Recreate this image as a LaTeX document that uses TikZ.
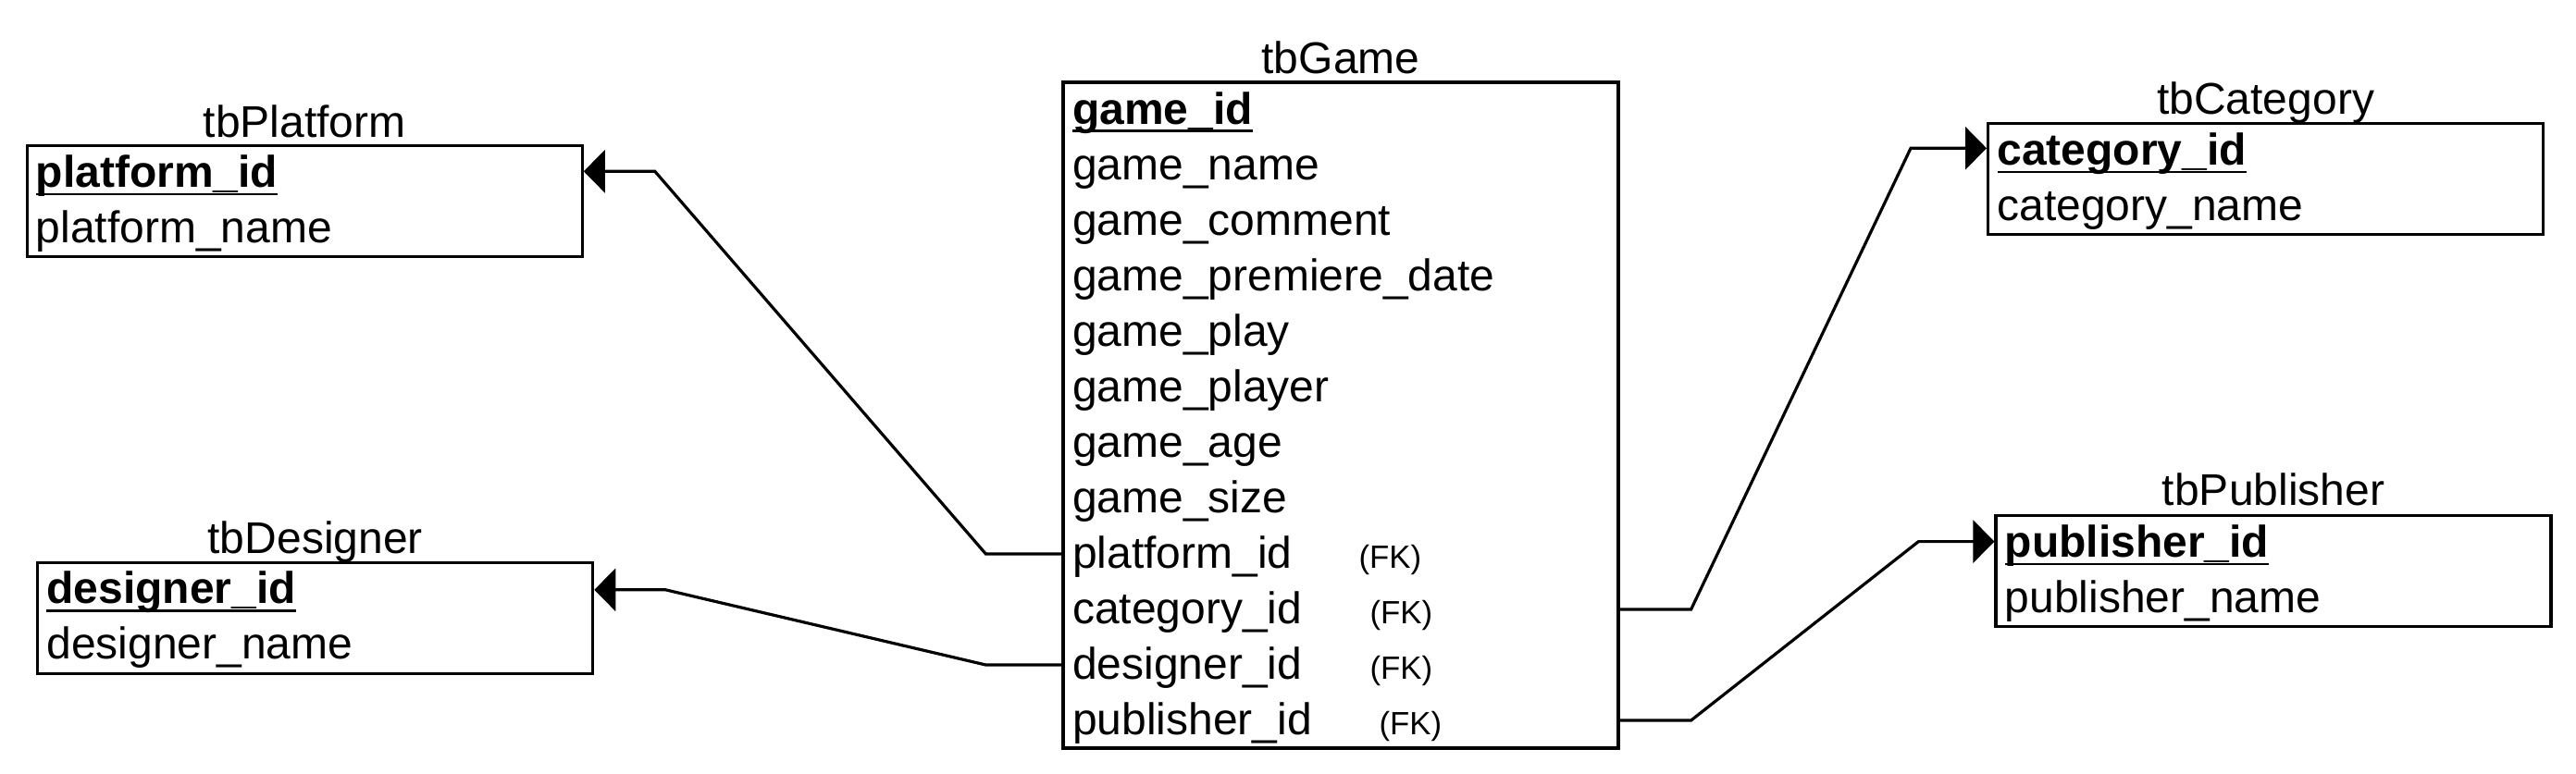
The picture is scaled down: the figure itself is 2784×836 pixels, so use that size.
\documentclass[tikz,border=0pt]{standalone}
\usepackage{fontspec}
\setmainfont{Liberation Sans}
\usetikzlibrary{arrows.meta,calc}

\newcommand{\pkline}[1]{\setbox0\hbox{#1}\rlap{\rule[-2.2pt]{\wd0}{0.6pt}}\box0}
\tikzset{every picture/.style={line width=0.8pt}}
\tikzset{
tbl/.style={draw, inner sep=0pt, minimum width=150pt},
row/.style={anchor=west, inner sep=0pt, text height=9pt, text depth=1.5pt, font=\fontsize{12}{14}\selectfont},
pk/.style={row, font=\fontsize{12}{14}\selectfont\bfseries},
fkl/.style={anchor=base west, inner sep=0pt, font=\fontsize{8.7}{10}\selectfont},
ttl/.style={anchor=base, inner sep=0pt, font=\fontsize{12}{14}\selectfont},
fk/.style={-{Triangle[length=5.75pt,width=11.5pt]}}}

\begin{document}
\begin{tikzpicture}[x=0.25pt,y=0.25pt,yscale=-1,xscale=1]
\useasboundingbox (0,0) rectangle (2784,836);

%Shape: Table tbPlatform
\node[tbl, minimum height=30pt] (platform) at (329.2,217.3) {};
\node[ttl] (tPlatform) at (329.2,148.2) {tbPlatform};
\node[pk] (pId) at (37.3,187.3) {\pkline{platform\_id}};
\node[row] (pName) at (37.3,247.3) {platform\_name};

%Shape: Table tbDesigner
\node[tbl, minimum height=30pt] (designer) at (340.7,668.3) {};
\node[ttl] (tDesigner) at (340.7,598.2) {tbDesigner};
\node[pk] (dId) at (48.8,637.8) {\pkline{designer\_id}};
\node[row] (dName) at (48.8,697.8) {designer\_name};

%Shape: Table tbGame
\node[tbl, minimum height=180pt] (game) at (1449,449) {};
\node[ttl] (tGame) at (1449,79) {tbGame};
\node[pk] (gId) at (1157.4,119) {\pkline{game\_id}};
\node[row] (gName) at (1157.4,179) {game\_name};
\node[row] (gComment) at (1157.4,239) {game\_comment};
\node[row] (gDate) at (1157.4,299) {game\_premiere\_date};
\node[row] (gPlay) at (1157.4,359) {game\_play};
\node[row] (gPlayer) at (1157.4,419) {game\_player};
\node[row] (gAge) at (1157.4,479) {game\_age};
\node[row] (gSize) at (1157.4,539) {game\_size};
\node[row] (gPlat) at (1157.4,599) {platform\_id};
\node[row] (gCat) at (1157.4,659) {category\_id};
\node[row] (gDes) at (1157.4,719) {designer\_id};
\node[row] (gPub) at (1157.4,779) {publisher\_id};
% Text Node
\node[fkl] (fPlat) at (1467,614) {(FK)};
\node[fkl] (fCat) at (1479,674) {(FK)};
\node[fkl] (fDes) at (1479,734) {(FK)};
\node[fkl] (fPub) at (1489,794) {(FK)};

%Shape: Table tbCategory
\node[tbl, minimum height=30pt] (category) at (2448.6,193.3) {};
\node[ttl] (tCategory) at (2448.6,123.7) {tbCategory};
\node[pk] (cId) at (2156.9,163.3) {\pkline{category\_id}};
\node[row] (cName) at (2156.9,223.3) {category\_name};

%Shape: Table tbPublisher
\node[tbl, minimum height=30pt] (publisher) at (2457,617.6) {};
\node[ttl] (tPublisher) at (2457,546.5) {tbPublisher};
\node[pk] (uId) at (2165.1,587.6) {\pkline{publisher\_id}};
\node[row] (uName) at (2165.1,647.6) {publisher\_name};

%Lines
\draw[fk] (game.west |- gPlat) -- ++(-82,0) -- ($(platform.east |- pId)+(77,-2)$) -- ($(platform.east |- pId)+(0,-2)$);
\draw[fk] (game.west |- gDes) -- ++(-82,0) -- ($(designer.east |- dId)+(77,0)$) -- (designer.east |- dId);
\draw[fk] (game.east |- gCat) -- ++(77,0) -- ($(category.west |- cId)+(-82,-3)$) -- ($(category.west |- cId)+(0,-3)$);
\draw[fk] (game.east |- gPub) -- ++(77,0) -- ($(publisher.west |- uId)+(-82,-2)$) -- ($(publisher.west |- uId)+(0,-2)$);

\end{tikzpicture}
\end{document}
